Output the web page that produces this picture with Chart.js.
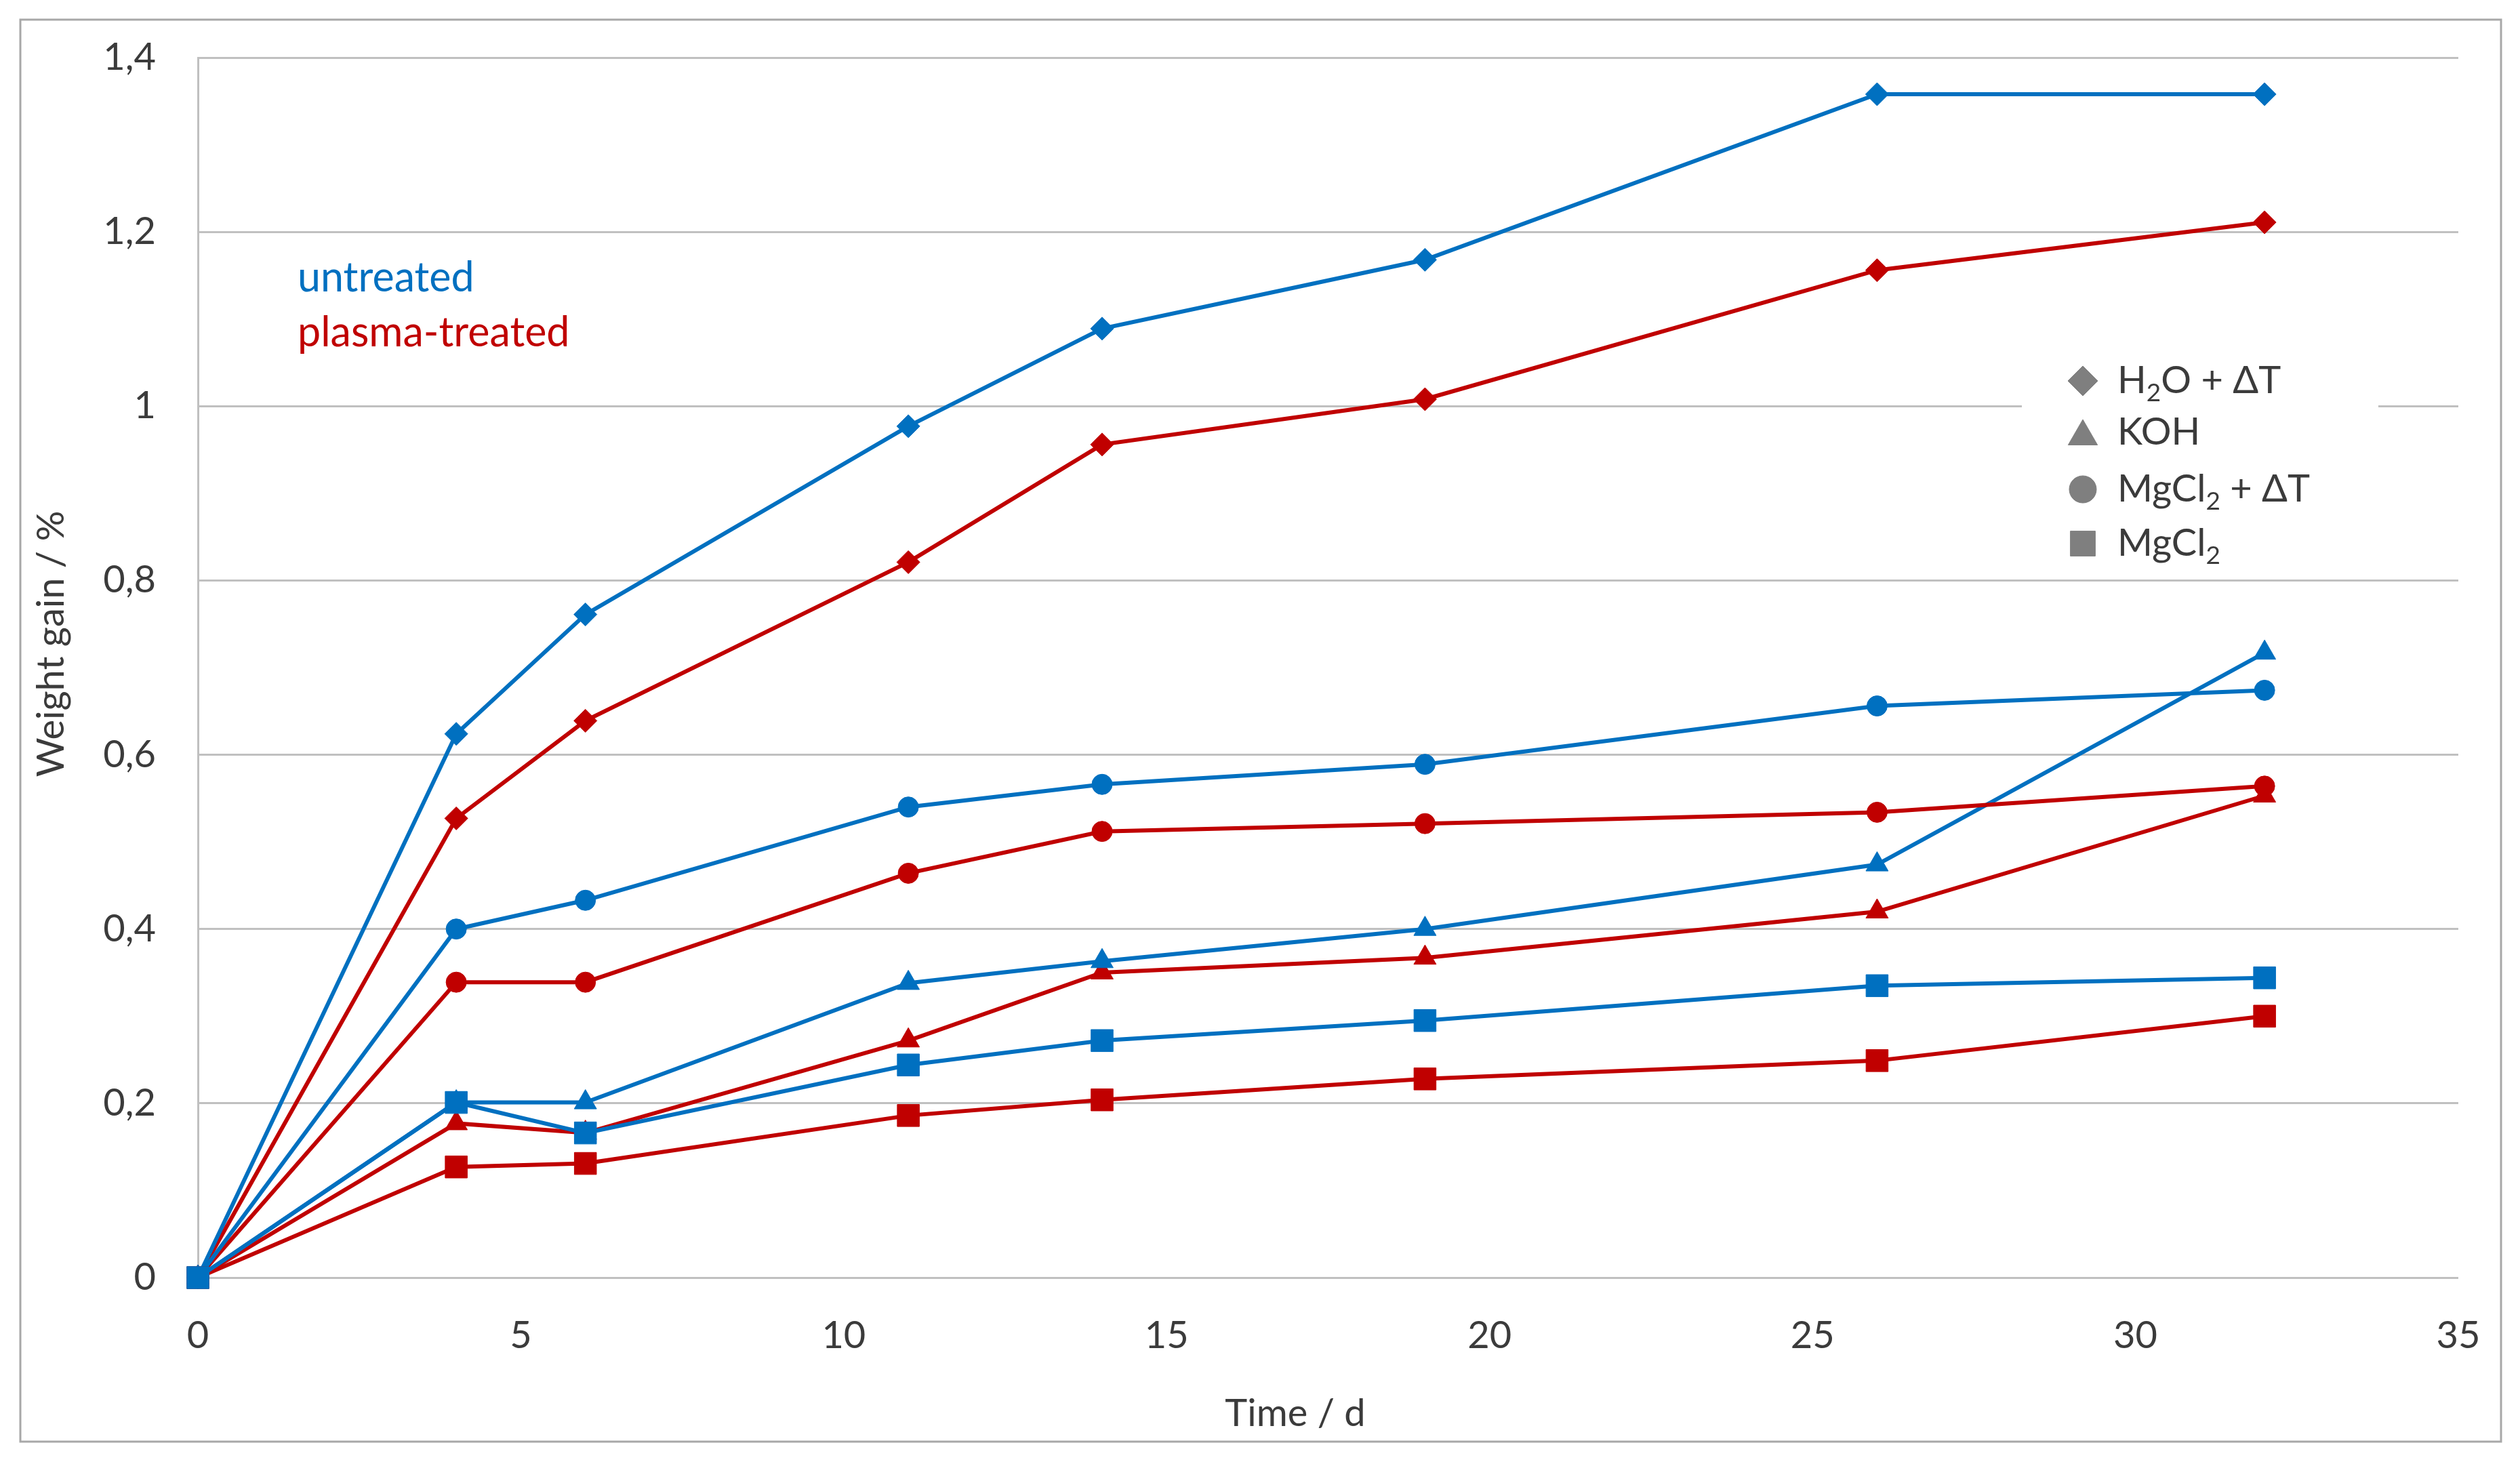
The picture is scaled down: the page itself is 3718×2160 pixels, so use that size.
<!DOCTYPE html>
<html>
<head>
<meta charset="utf-8">
<script src="https://cdn.jsdelivr.net/npm/chart.js@4.4.1/dist/chart.umd.min.js"></script>
<style>
  html, body { margin: 0; padding: 0; background: #ffffff; }
  #wrap { width: 3718px; height: 2160px; }
</style>
</head>
<body>
<div id="wrap"><canvas id="c" width="3718" height="2160"></canvas></div>
<script>
// ---- data ----
const days = [0, 4, 6, 11, 14, 19, 26, 32];

const untreatedH2O   = [0, 0.624, 0.761, 0.977, 1.089, 1.168, 1.358, 1.358];
const plasmaH2O      = [0, 0.527, 0.639, 0.821, 0.956, 1.008, 1.156, 1.211];
const untreatedMgClT = [0, 0.400, 0.433, 0.540, 0.566, 0.589, 0.656, 0.674];
const plasmaMgClT    = [0, 0.339, 0.339, 0.464, 0.512, 0.521, 0.534, 0.564];
const untreatedKOH   = [0, 0.201, 0.201, 0.338, 0.363, 0.400, 0.474, 0.717];
const plasmaKOH      = [0, 0.177, 0.166, 0.272, 0.350, 0.367, 0.420, 0.553];
const untreatedMgCl  = [0, 0.201, 0.166, 0.244, 0.272, 0.295, 0.335, 0.344];
const plasmaMgCl     = [0, 0.127, 0.131, 0.186, 0.204, 0.228, 0.249, 0.300];

const yTickLabels = ['0', '0,2', '0,4', '0,6', '0,8', '1', '1,2', '1,4'];
const xTickLabels = ['0', '5', '10', '15', '20', '25', '30', '35'];

const xTitle = 'Time / d';
const yTitle = 'Weight gain / %';
const groupLabels = ['untreated', 'plasma-treated'];
// legend entries: segments [text, isSubscript]
const legendEntries = [
  { style: 'rectRot',  parts: [['H', false], ['2', true], ['O + \u0394T', false]] },
  { style: 'triangle', parts: [['KOH', false]] },
  { style: 'circle',   parts: [['MgCl', false], ['2', true], [' + \u0394T', false]] },
  { style: 'rect',     parts: [['MgCl', false], ['2', true]] }
];

// ---- styling ----
const BLUE = '#0070C0';
const RED = '#C00000';
const TEXT = '#3b3b3b';
const GRID = '#c0c0c0';
const FONT = 'Lato, "Open Sans", "DejaVu Sans", sans-serif';
const FS = 56;

function pts(arr) { return days.map((d, i) => ({ x: d, y: arr[i] })); }
function ds(label, arr, color, style, radius) {
  return {
    label: label,
    data: pts(arr),
    showLine: true,
    borderColor: color,
    backgroundColor: color,
    borderWidth: 6,
    pointStyle: style,
    pointRadius: radius,
    pointBackgroundColor: color,
    pointBorderColor: color,
    pointBorderWidth: 1,
    tension: 0,
    clip: false
  };
}

// dataset index 0 is drawn on top in Chart.js
const datasets = [
  ds('untreated MgCl2', untreatedMgCl, BLUE, 'rect', 23),
  ds('plasma-treated MgCl2', plasmaMgCl, RED, 'rect', 23),
  ds('untreated MgCl2 + dT', untreatedMgClT, BLUE, 'circle', 15),
  ds('plasma-treated MgCl2 + dT', plasmaMgClT, RED, 'circle', 15),
  ds('untreated KOH', untreatedKOH, BLUE, 'triangle', 19),
  ds('plasma-treated KOH', plasmaKOH, RED, 'triangle', 19),
  ds('untreated H2O + dT', untreatedH2O, BLUE, 'rectRot', 17),
  ds('plasma-treated H2O + dT', plasmaH2O, RED, 'rectRot', 17)
];

// background + outer frame
const framePlugin = {
  id: 'frame',
  beforeDraw(chart) {
    const ctx = chart.ctx;
    ctx.save();
    ctx.fillStyle = '#ffffff';
    ctx.fillRect(0, 0, chart.width, chart.height);
    ctx.strokeStyle = '#a8a8a8';
    ctx.lineWidth = 3;
    ctx.strokeRect(30, 29, 3660, 2098);
    ctx.restore();
  }
};

function drawRich(ctx, parts, x, y) {
  let cx = x;
  for (const [t, sub] of parts) {
    if (sub) {
      ctx.font = `${Math.round(FS * 0.66)}px ${FONT}`;
      ctx.fillText(t, cx, y + FS * 0.32);
    } else {
      ctx.font = `${FS}px ${FONT}`;
      ctx.fillText(t, cx, y);
    }
    cx += ctx.measureText(t).width;
  }
}

// axis titles, annotations + custom legend
const overlayPlugin = {
  id: 'overlay',
  afterDraw(chart) {
    const ctx = chart.ctx;
    ctx.save();
    ctx.textBaseline = 'middle';
    ctx.textAlign = 'center';
    ctx.fillStyle = TEXT;
    ctx.font = `${FS}px ${FONT}`;
    // axis titles
    ctx.fillText(xTitle, 1911, 2086);
    ctx.save();
    ctx.translate(76, 950);
    ctx.rotate(-Math.PI / 2);
    ctx.fillText(yTitle, 0, 0);
    ctx.restore();

    // group labels
    ctx.textAlign = 'left';
    ctx.font = `${FS + 5}px ${FONT}`;
    ctx.fillStyle = BLUE;
    ctx.fillText(groupLabels[0], 439, 410);
    ctx.fillStyle = RED;
    ctx.fillText(groupLabels[1], 439, 491);

    // legend box (white, hides grid)
    ctx.fillStyle = '#ffffff';
    ctx.fillRect(2983, 510, 526, 332);
    const rows = [562, 638, 722, 802];
    const radii = { rectRot: 22, triangle: 25, circle: 20, rect: 26 };
    legendEntries.forEach((e, i) => {
      const y = rows[i];
      const yOff = e.style === 'triangle' ? 6 : 0;
      ctx.fillStyle = '#7f7f7f';
      ctx.strokeStyle = '#7f7f7f';
      ctx.lineWidth = 1;
      Chart.helpers.drawPoint(ctx, { pointStyle: e.style, radius: radii[e.style], borderWidth: 1, rotation: 0 }, 3073, y + yOff);
      ctx.fillStyle = TEXT;
      ctx.textBaseline = 'middle';
      drawRich(ctx, e.parts, 3124, y);
    });
    ctx.restore();
  }
};

const chart = new Chart(document.getElementById('c'), {
  type: 'scatter',
  data: { datasets: datasets },
  options: {
    responsive: false,
    animation: false,
    devicePixelRatio: 1,
    layout: { padding: { top: 85, right: 91, left: 0, bottom: 0 } },
    plugins: {
      legend: { display: false },
      tooltip: { enabled: false }
    },
    scales: {
      x: {
        type: 'linear',
        min: 0, max: 35,
        afterFit(scale) { scale.height = 275; },
        grid: { display: false, drawTicks: false },
        border: { display: false },
        ticks: {
          stepSize: 5,
          padding: 52,
          color: TEXT,
          font: { family: FONT, size: FS },
          maxRotation: 0,
          callback: (v) => xTickLabels[Math.round(v / 5)]
        },
        title: { display: false }
      },
      y: {
        type: 'linear',
        min: 0, max: 1.4,
        afterFit(scale) {
          scale.width = 292;
          scale.paddingTop = 0;
          scale.paddingBottom = 0;
        },
        grid: { color: GRID, lineWidth: 3, drawTicks: false },
        border: { display: true, color: GRID, width: 3 },
        ticks: {
          stepSize: 0.2,
          padding: 62,
          color: TEXT,
          font: { family: FONT, size: FS },
          callback: (v) => yTickLabels[Math.round(v / 0.2)]
        },
        title: { display: false }
      }
    }
  },
  plugins: [framePlugin, overlayPlugin]
});
</script>
</body>
</html>
